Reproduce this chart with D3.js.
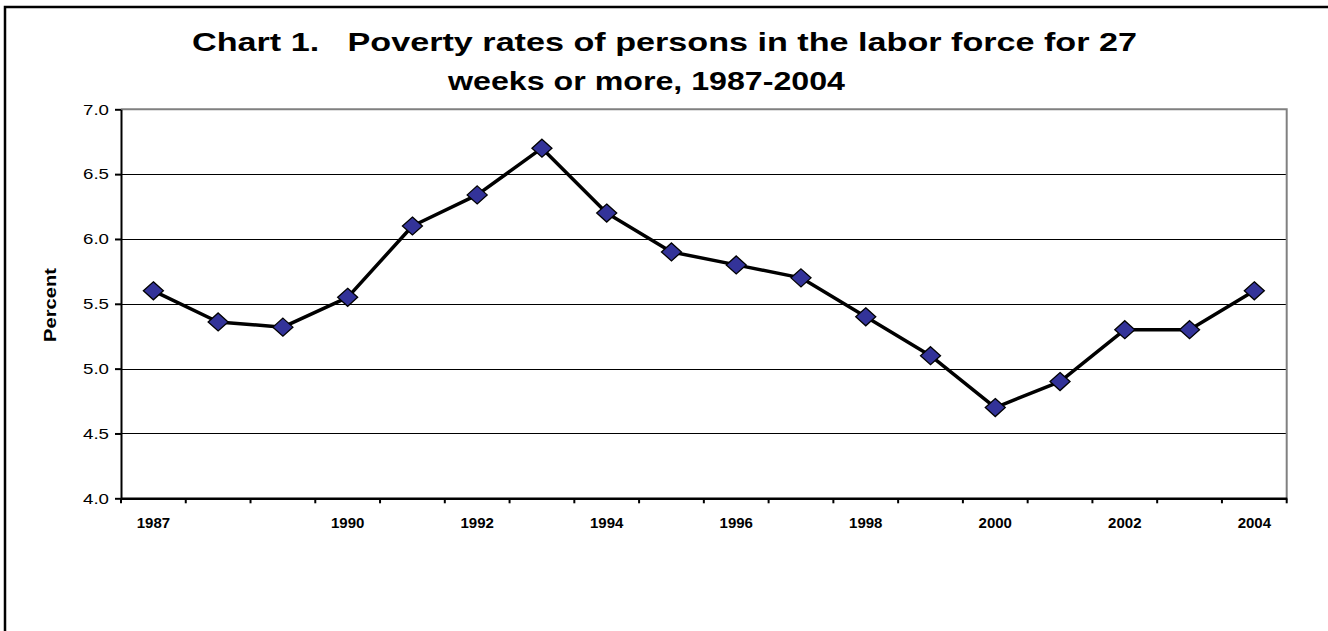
<!DOCTYPE html>
<html>
<head>
<meta charset="utf-8">
<script src="https://cdn.jsdelivr.net/npm/d3@7"></script>
<style>
  html, body { margin: 0; background: #fff; overflow: hidden; }
  svg { display: block; font-family: Arial, "Liberation Sans", sans-serif; }
</style>
</head>
<body>
<svg width="1328" height="631"></svg>
<script>
// Chart data
const years = ["1987","1988","1989","1990","1991","1992","1993","1994","1995",
               "1996","1997","1998","1999","2000","2001","2002","2003","2004"];
const rates = [5.6, 5.36, 5.32, 5.55, 6.1, 6.34, 6.7, 6.2, 5.9,
               5.8, 5.7, 5.4, 5.1, 4.7, 4.9, 5.3, 5.3, 5.6];
const xLabels = ["1987","1990","1992","1994","1996","1998","2000","2002","2004"];
const yTicks = [4.0, 4.5, 5.0, 5.5, 6.0, 6.5, 7.0];

const svg = d3.select("svg");
const plotL = 121, plotR = 1286.7, plotT = 109.3, plotB = 498.3;

// outer frame: only left and top edges are inside the picture
svg.append("path")
    .attr("d", "M5,631V7H1328")
    .attr("fill", "none").attr("stroke", "#000").attr("stroke-width", 2.5);

// title
svg.append("text")
    .attr("x", 192).attr("y", 51)
    .attr("font-size", 26).attr("font-weight", "bold")
    .attr("textLength", 945).attr("lengthAdjust", "spacingAndGlyphs")
    .attr("xml:space", "preserve")
    .text("Chart 1.   Poverty rates of persons in the labor force for 27");
svg.append("text")
    .attr("x", 448).attr("y", 90)
    .attr("font-size", 26).attr("font-weight", "bold")
    .attr("textLength", 397).attr("lengthAdjust", "spacingAndGlyphs")
    .text("weeks or more, 1987-2004");

const x = d3.scaleBand().domain(years).range([plotL, plotR]).padding(0);
const y = d3.scaleLinear().domain([4, 7]).range([plotB, plotT]);

// gridlines
svg.append("g")
    .selectAll("line")
    .data(yTicks.filter(v => v > 4 && v < 7))
    .join("line")
    .attr("x1", plotL).attr("x2", plotR)
    .attr("y1", d => Math.round(y(d)) + 0.5).attr("y2", d => Math.round(y(d)) + 0.5)
    .attr("stroke", "#000").attr("stroke-width", 1.2);

// plot area border top / right (gray)
svg.append("path")
    .attr("d", `M${plotL},${y(7)}H${plotR}V${plotB}`)
    .attr("fill", "none").attr("stroke", "#808080").attr("stroke-width", 2);

// y axis
const yAxis = d3.axisLeft(y).tickValues(yTicks).tickFormat(d3.format(".1f"))
    .tickSize(6).tickSizeOuter(0).tickPadding(6);
const gy = svg.append("g").attr("transform", `translate(${plotL},0)`).call(yAxis);
gy.select(".domain").attr("stroke", "#000").attr("stroke-width", 2);
gy.selectAll(".tick line").attr("stroke", "#000").attr("stroke-width", 2);
gy.selectAll(".tick text")
    .attr("font-size", 15).attr("fill", "#000")
    .attr("font-family", "Arial, 'Liberation Sans', sans-serif")
    .attr("textLength", 26).attr("lengthAdjust", "spacingAndGlyphs");

// x axis labels (only some years)
const xAxis = d3.axisBottom(x)
    .tickFormat(d => xLabels.includes(d) ? d : "")
    .tickSize(0).tickPadding(19);
const gx = svg.append("g").attr("transform", `translate(0,${plotB})`).call(xAxis);
gx.select(".domain").attr("stroke", "#000").attr("stroke-width", 2.5);
gx.selectAll(".tick text")
    .attr("font-size", 15).attr("font-weight", "bold").attr("fill", "#000")
    .attr("font-family", "Arial, 'Liberation Sans', sans-serif");

// x ticks between categories
svg.append("g")
    .selectAll("line")
    .data(years.concat(["end"]))
    .join("line")
    .attr("x1", d => d === "end" ? plotR : x(d))
    .attr("x2", d => d === "end" ? plotR : x(d))
    .attr("y1", plotB).attr("y2", plotB + 5)
    .attr("stroke", "#000").attr("stroke-width", 2);

// y axis title
svg.append("text")
    .attr("transform", "translate(56,305) rotate(-90)")
    .attr("text-anchor", "middle")
    .attr("font-size", 17).attr("font-weight", "bold")
    .attr("textLength", 74).attr("lengthAdjust", "spacingAndGlyphs")
    .text("Percent");

// line
const line = d3.line()
    .x((d, i) => x(years[i]) + x.bandwidth() / 2)
    .y(d => y(d));
svg.append("path")
    .datum(rates)
    .attr("fill", "none")
    .attr("stroke", "#000")
    .attr("stroke-width", 3.5)
    .attr("stroke-linejoin", "round")
    .attr("d", line);

// diamond markers
svg.append("g")
    .selectAll("path")
    .data(rates)
    .join("path")
    .attr("transform", (d, i) => `translate(${x(years[i]) + x.bandwidth() / 2},${y(d)})`)
    .attr("d", "M0,-9L10,0L0,9L-10,0Z")
    .attr("fill", "#333399")
    .attr("stroke", "#000")
    .attr("stroke-width", 1.3);
</script>
</body>
</html>
